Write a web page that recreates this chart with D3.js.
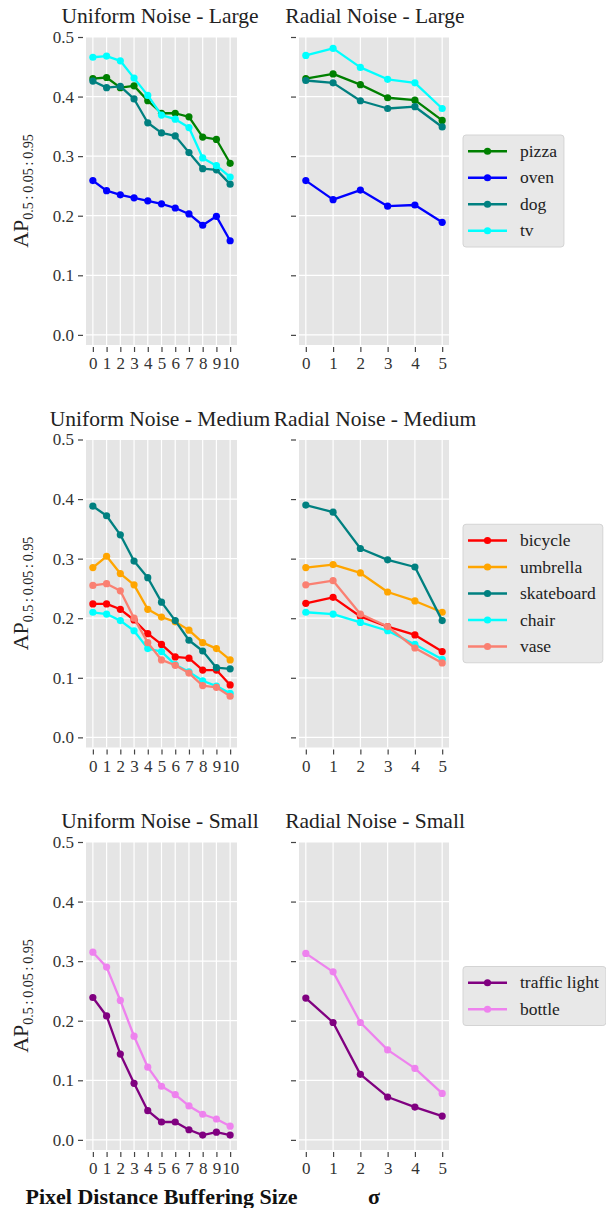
<!DOCTYPE html>
<html lang="en">
<head>
  <meta charset="UTF-8">
  <title>AP under label noise</title>
  <style>
    body {
      margin: 0;
      background: #fff;
    }
    svg, svg text {
      font-family: "Liberation Serif", "Times New Roman", serif;
    }
    .tick line {
      stroke: #444;
      stroke-width: 1.2;
    }
    .tick text {
      fill: #333;
      font-size: 17px;
    }
  </style>
</head>
<body>
  <svg id="chart" width="606" height="1208"></svg>

  <script src="https://d3js.org/d3.v7.min.js"></script>
  <script>
    // x values
    const bufferSizes = [0, 1, 2, 3, 4, 5, 6, 7, 8, 9, 10];
    const sigmas = [0, 1, 2, 3, 4, 5];
    const yTicks = [0, 0.1, 0.2, 0.3, 0.4, 0.5];

    // large objects
    const largeClasses = ["pizza", "oven", "dog", "tv"];
    const largeColors = ["green", "blue", "teal", "cyan"];
    const uniformLarge = [
      [0.430, 0.432, 0.415, 0.418, 0.393, 0.372, 0.372, 0.366, 0.332, 0.328, 0.288],
      [0.259, 0.242, 0.235, 0.230, 0.225, 0.220, 0.213, 0.203, 0.184, 0.199, 0.158],
      [0.426, 0.415, 0.417, 0.396, 0.356, 0.339, 0.334, 0.306, 0.279, 0.277, 0.253],
      [0.466, 0.468, 0.460, 0.431, 0.402, 0.369, 0.362, 0.348, 0.297, 0.284, 0.265]
    ];
    const radialLarge = [
      [0.430, 0.438, 0.420, 0.398, 0.394, 0.360],
      [0.259, 0.227, 0.243, 0.216, 0.218, 0.189],
      [0.427, 0.423, 0.393, 0.380, 0.383, 0.349],
      [0.469, 0.481, 0.449, 0.429, 0.423, 0.380]
    ];

    // medium objects
    const mediumClasses = ["bicycle", "umbrella", "skateboard", "chair", "vase"];
    const mediumColors = ["red", "orange", "teal", "cyan", "salmon"];
    const uniformMedium = [
      [0.224, 0.224, 0.215, 0.197, 0.174, 0.156, 0.135, 0.133, 0.113, 0.113, 0.088],
      [0.285, 0.304, 0.275, 0.256, 0.215, 0.202, 0.194, 0.180, 0.159, 0.149, 0.130],
      [0.388, 0.372, 0.340, 0.296, 0.268, 0.227, 0.196, 0.163, 0.145, 0.117, 0.115],
      [0.210, 0.207, 0.196, 0.179, 0.149, 0.144, 0.122, 0.110, 0.095, 0.086, 0.074],
      [0.255, 0.258, 0.246, 0.200, 0.159, 0.130, 0.121, 0.108, 0.087, 0.084, 0.069]
    ];
    const radialMedium = [
      [0.225, 0.235, 0.203, 0.186, 0.172, 0.144],
      [0.285, 0.290, 0.276, 0.244, 0.229, 0.210],
      [0.390, 0.378, 0.317, 0.298, 0.286, 0.196],
      [0.210, 0.207, 0.193, 0.179, 0.156, 0.131],
      [0.256, 0.263, 0.207, 0.186, 0.150, 0.125]
    ];

    // small objects
    const smallClasses = ["traffic light", "bottle"];
    const smallColors = ["purple", "violet"];
    const uniformSmall = [
      [0.239, 0.208, 0.144, 0.095, 0.049, 0.030, 0.030, 0.017, 0.008, 0.013, 0.008],
      [0.315, 0.290, 0.234, 0.174, 0.122, 0.090, 0.076, 0.057, 0.043, 0.035, 0.023]
    ];
    const radialSmall = [
      [0.238, 0.197, 0.110, 0.072, 0.055, 0.040],
      [0.313, 0.282, 0.197, 0.151, 0.120, 0.078]
    ];

    const rows = [
      { size: "Large", classes: largeClasses, colors: largeColors, uniform: uniformLarge, radial: radialLarge },
      { size: "Medium", classes: mediumClasses, colors: mediumColors, uniform: uniformMedium, radial: radialMedium },
      { size: "Small", classes: smallClasses, colors: smallColors, uniform: uniformSmall, radial: radialSmall }
    ];

    const svg = d3.select("#chart");
    const serif = '"Liberation Serif", "Times New Roman", serif';
    const plotH = 308;
    const rowTops = [37, 439.5, 842];
    const leftRange = [86, 237];
    const rightRange = [299, 449];

    function drawPanel(top, range, xs, xDomain, series, colors, title, showLabels, titleX) {
      const g = svg.append("g");
      const x = d3.scaleLinear().domain(xDomain).range(range);
      const y = d3.scaleLinear().domain([-0.017, 0.5]).range([top + plotH, top]);

      g.append("rect")
        .attr("x", range[0])
        .attr("y", top)
        .attr("width", range[1] - range[0])
        .attr("height", plotH)
        .attr("fill", "#e5e5e5");

      // grid
      g.selectAll(".vgrid").data(xs).join("line")
        .attr("x1", d => x(d)).attr("x2", d => x(d))
        .attr("y1", top).attr("y2", top + plotH)
        .attr("stroke", "#fff").attr("stroke-width", 1.2);
      g.selectAll(".hgrid").data(yTicks).join("line")
        .attr("x1", range[0]).attr("x2", range[1])
        .attr("y1", d => y(d)).attr("y2", d => y(d))
        .attr("stroke", "#fff").attr("stroke-width", 1.2);

      // axes
      const yAxis = g.append("g")
        .attr("transform", `translate(${range[0] - 3},0)`)
        .call(d3.axisLeft(y).tickValues(yTicks).tickSize(5).tickPadding(4)
          .tickFormat(showLabels ? d3.format(".1f") : ""));
      yAxis.select(".domain").remove();

      const xAxis = g.append("g")
        .attr("transform", `translate(0,${top + plotH + 2})`)
        .call(d3.axisBottom(x).tickValues(xs).tickSize(5).tickPadding(5).tickFormat(d3.format("d")));
      xAxis.select(".domain").remove();
      g.selectAll(".tick text")
        .style("font-family", serif)
        .style("font-size", "17px");

      // lines
      const line = d3.line().x((d, i) => x(xs[i])).y(d => y(d));
      series.forEach((vals, k) => {
        g.append("path")
          .attr("d", line(vals))
          .attr("fill", "none")
          .attr("stroke", colors[k])
          .attr("stroke-width", 2.3)
          .attr("stroke-linejoin", "round");
        g.selectAll(null).data(vals).join("circle")
          .attr("cx", (d, i) => x(xs[i]))
          .attr("cy", d => y(d))
          .attr("r", 3.6)
          .attr("fill", colors[k]);
      });

      g.append("text")
        .attr("x", titleX)
        .attr("y", top - 14)
        .attr("text-anchor", "middle")
        .attr("font-size", "21.5px")
        .attr("fill", "#222")
        .text(title);
    }

    function drawLegend(top, classes, colors) {
      const rowH = 26.5;
      const h = classes.length * rowH + 6;
      const lx = 463;
      const ly = top + plotH / 2 - h / 2;
      const g = svg.append("g").attr("transform", `translate(${lx},${ly})`);
      const box = g.append("rect")
        .attr("height", h)
        .attr("rx", 3)
        .attr("fill", "#e8e8e8")
        .attr("stroke", "#d4d4d4");
      let maxW = 0;
      classes.forEach((c, i) => {
        const cy = 3 + rowH * i + rowH / 2;
        g.append("line")
          .attr("x1", 5).attr("x2", 44)
          .attr("y1", cy).attr("y2", cy)
          .attr("stroke", colors[i]).attr("stroke-width", 2.4);
        g.append("circle")
          .attr("cx", 24.5).attr("cy", cy).attr("r", 3.6)
          .attr("fill", colors[i]);
        const t = g.append("text")
          .attr("x", 57).attr("y", cy)
          .attr("dy", "0.32em")
          .attr("font-size", "17.5px")
          .attr("fill", "#222")
          .text(c);
        maxW = Math.max(maxW, t.node().getComputedTextLength());
      });
      box.attr("width", 57 + maxW + 7);
    }

    rows.forEach((r, i) => {
      const top = rowTops[i];
      drawPanel(top, leftRange, bufferSizes, [-0.5, 10.5], r.uniform, r.colors, "Uniform Noise - " + r.size, true, 160);
      drawPanel(top, rightRange, sigmas, [-0.25, 5.25], r.radial, r.colors, "Radial Noise - " + r.size, false, 375);
      drawLegend(top, r.classes, r.colors);

      const label = svg.append("text")
        .attr("transform", `translate(28,${top + plotH / 2}) rotate(-90)`)
        .attr("text-anchor", "middle")
        .attr("fill", "#222");
      label.append("tspan").attr("font-size", "22px").text("AP");
      label.append("tspan").attr("font-size", "14px").attr("dy", "0.35em")
        .text("0.5\u2009:\u20090.05\u2009:\u20090.95");
    });

    svg.append("text")
      .attr("x", (leftRange[0] + leftRange[1]) / 2)
      .attr("y", 1204)
      .attr("text-anchor", "middle")
      .attr("font-size", "22px")
      .attr("font-weight", "bold")
      .attr("fill", "#111")
      .text("Pixel Distance Buffering Size");

    svg.append("text")
      .attr("x", (rightRange[0] + rightRange[1]) / 2)
      .attr("y", 1204)
      .attr("text-anchor", "middle")
      .attr("font-size", "22px")
      .attr("font-weight", "bold")
      .attr("fill", "#111")
      .text("σ");
  </script>
</body>
</html>
